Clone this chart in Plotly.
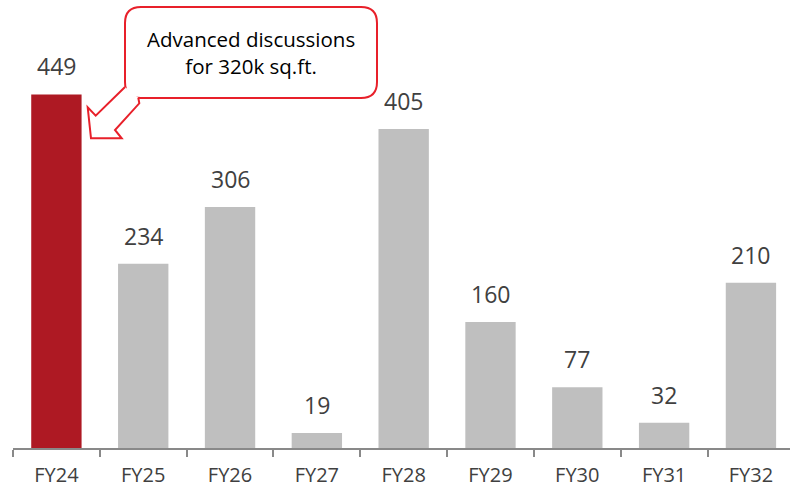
import plotly.graph_objects as go

categories = ["FY24", "FY25", "FY26", "FY27", "FY28", "FY29", "FY30", "FY31", "FY32"]
values = [449, 234, 306, 19, 405, 160, 77, 32, 210]
bar_colors = ["#ae1923"] + ["#bfbfbf"] * 8
callout_text = "Advanced discussions<br>for 320k sq.ft."

W, H = 790, 488
L, R, T, B = 13, 0, 0, 40
PW, PH = W - L - R, H - T - B


def px(x):
    return (x - L) / PW


def py(y):
    return (H - B - y) / PH


fig = go.Figure()
fig.add_trace(go.Bar(
    x=categories, y=values, marker=dict(color=bar_colors, line=dict(width=0)),
    width=0.58, hoverinfo="x+y", cliponaxis=False,
))

for c, v in zip(categories, values):
    fig.add_annotation(x=c, y=v, text=str(v), showarrow=False, yanchor="bottom",
                       yshift=10, font=dict(family="Open Sans", size=23, color="#404040"))

red = "#e8202a"
# callout box (rounded rectangle)
x0, x1, y0, y1, r = 125, 377, 7, 98, 16
box = (f"M {px(x0+r)},{py(y0)} L {px(x1-r)},{py(y0)} Q {px(x1)},{py(y0)} {px(x1)},{py(y0+r)} "
       f"L {px(x1)},{py(y1-r)} Q {px(x1)},{py(y1)} {px(x1-r)},{py(y1)} "
       f"L {px(x0+r)},{py(y1)} Q {px(x0)},{py(y1)} {px(x0)},{py(y1-r)} "
       f"L {px(x0)},{py(y0+r)} Q {px(x0)},{py(y0)} {px(x0+r)},{py(y0)} Z")
fig.add_shape(type="path", path=box, xref="paper", yref="paper",
              fillcolor="white", line=dict(color=red, width=2), layer="above")

# arrow (open path so the box side stays open)
pts = [(125, 87), (95.7, 115.7), (87.7, 107.3), (91, 138.3), (121.7, 138.3),
       (115, 130), (139.3, 103.3), (138.3, 97.7)]
arrow = "M " + " L ".join(f"{px(a)},{py(b)}" for a, b in pts)
fig.add_shape(type="path", path=arrow, xref="paper", yref="paper",
              fillcolor="white", line=dict(color=red, width=2), layer="above")

fig.add_annotation(xref="paper", yref="paper", x=px(251), y=py(52), text=callout_text,
                   showarrow=False, align="center", xanchor="center", yanchor="middle",
                   font=dict(family="Open Sans", size=20.5, color="#000000"))

fig.update_layout(
    width=W, height=H, margin=dict(l=L, r=R, t=T, b=B, pad=0, autoexpand=False),
    paper_bgcolor="white", plot_bgcolor="white", showlegend=False,
    xaxis=dict(type="category", range=[-0.5, 8.45], showline=True, linecolor="#898989",
               linewidth=1.5, ticks="outside", tickson="boundaries", ticklen=7,
               tickcolor="#898989", tickwidth=1.5, showgrid=False, automargin=False,
               ticklabelstandoff=8,
               tickfont=dict(family="Open Sans", size=20, color="#404040")),
    yaxis=dict(range=[0, 569], visible=False, showgrid=False, zeroline=False,
               automargin=False),
)

fig.write_html("out.html", config={"displayModeBar": False},
               post_script="document.body.style.margin='0';")
